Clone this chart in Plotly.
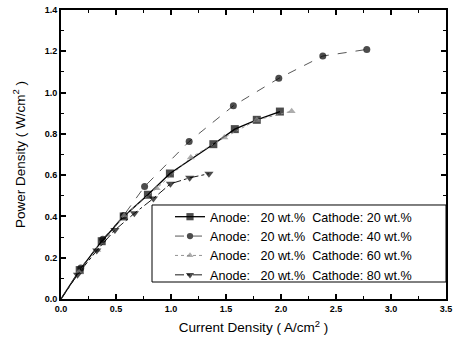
import plotly.graph_objects as go

# Data
x_20 = [0, 0.17, 0.37, 0.57, 0.79, 0.99, 1.385, 1.58, 1.78, 1.99]
y_20 = [0, 0.14, 0.28, 0.40, 0.505, 0.608, 0.75, 0.823, 0.868, 0.908]

x_40 = [0, 0.18, 0.38, 0.57, 0.76, 1.165, 1.567, 1.98, 2.38, 2.78]
y_40 = [0, 0.15, 0.29, 0.405, 0.545, 0.763, 0.936, 1.069, 1.177, 1.209]

x_60 = [0, 0.165, 0.33, 0.575, 0.87, 1.18, 1.485, 1.78, 2.097]
y_60 = [0, 0.13, 0.237, 0.405, 0.536, 0.685, 0.782, 0.867, 0.91]

x_80 = [0, 0.15, 0.325, 0.49, 0.667, 0.84, 0.995, 1.17, 1.345]
y_80 = [0, 0.118, 0.235, 0.334, 0.415, 0.487, 0.558, 0.587, 0.607]

names = [
    "Anode:\u00a0\u00a0 20 wt.%\u00a0 Cathode: 20 wt.%",
    "Anode:\u00a0\u00a0 20 wt.%\u00a0 Cathode: 40 wt.%",
    "Anode:\u00a0\u00a0 20 wt.%\u00a0 Cathode: 60 wt.%",
    "Anode:\u00a0\u00a0 20 wt.%\u00a0 Cathode: 80 wt.%",
]

series = [
    (x_20, y_20, dict(color="black", width=1.3, dash="solid"), "square", 8, "black"),
    (x_40, y_40, dict(color="#444", width=0.9, dash="dash"), "circle", 7, "black"),
    (x_60, y_60, dict(color="#888", width=0.9, dash="dot"), "triangle-up", 7, "#8a8a8a"),
    (x_80, y_80, dict(color="black", width=0.9, dash="dashdot"), "triangle-down", 8, "black"),
]

fig = go.Figure()
for (xs, ys, line, sym, sz, mc), nm in zip(series, names):
    sizes = [0] + [sz] * (len(xs) - 1)
    fig.add_trace(go.Scatter(
        x=xs, y=ys, name=nm, mode="lines+markers",
        line=line,
        marker=dict(symbol=sym, size=sizes, color=mc, line=dict(width=0)),
    ))

axis_common = dict(
    showline=True, linecolor="black", linewidth=2, mirror="ticks",
    ticks="inside", ticklen=5, tickwidth=1.5, tickcolor="black",
    showgrid=False, zeroline=False, automargin=False,
    tickfont=dict(family="Liberation Sans", size=9, color="black", weight="bold"),
)

fig.update_xaxes(
    range=[0, 3.5], dtick=0.5, tickformat=".1f",
    minor=dict(dtick=0.25, ticks="inside", ticklen=3, tickcolor="black", tickwidth=1),
    title=dict(text="Current Density ( A/cm<sup>2</sup> )",
               font=dict(family="Liberation Sans", size=13.5, color="black"), standoff=10),
    **axis_common,
)
fig.update_yaxes(
    range=[0, 1.4], dtick=0.2, tickformat=".1f",
    minor=dict(dtick=0.1, ticks="inside", ticklen=3, tickcolor="black", tickwidth=1),
    title=dict(text="Power Density ( W/cm<sup>2</sup> )",
               font=dict(family="Liberation Sans", size=13.5, color="black"), standoff=16),
    **axis_common,
)

# legend frame (white box with black border)
fig.add_shape(type="rect", xref="paper", yref="paper",
              x0=0.2364, x1=1.0, y0=0.0588, y1=0.3253,
              line=dict(color="black", width=1), fillcolor="white", layer="above")

fig.update_layout(
    width=457, height=348,
    margin=dict(l=61, r=11, t=10, b=49, autoexpand=False),
    paper_bgcolor="white", plot_bgcolor="white",
    showlegend=True,
    legend=dict(
        x=(170 - 61) / 385, y=(299 - 202) / 289, xanchor="left", yanchor="top",
        bgcolor="rgba(0,0,0,0)", borderwidth=0,
        font=dict(family="Liberation Sans", size=12.6, color="black"),
        itemwidth=30, tracegroupgap=0,
    ),
)

fig.write_html("out.html", config={"displayModeBar": False},
               post_script="document.body.style.margin='0';document.body.style.overflow='hidden';")
